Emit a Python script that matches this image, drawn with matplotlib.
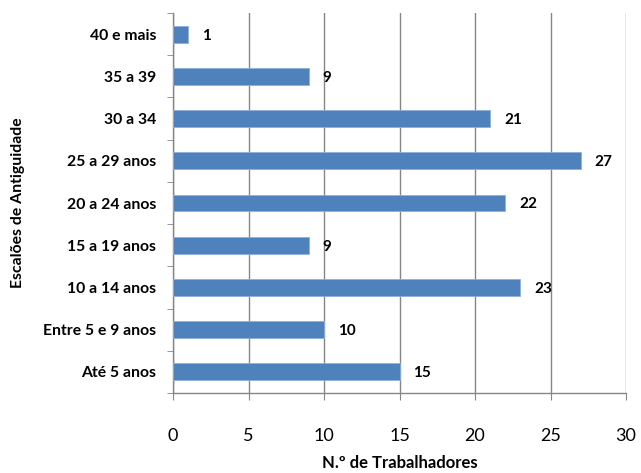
import numpy as np
import matplotlib.pyplot as plt
from matplotlib.ticker import MultipleLocator

# escalões de antiguidade (de baixo para cima) e n.º de trabalhadores
escaloes = ["Até 5 anos", "Entre 5 e 9 anos", "10 a 14 anos", "15 a 19 anos",
            "20 a 24 anos", "25 a 29 anos", "30 a 34", "35 a 39", "40 e mais"]
trabalhadores = [15, 10, 23, 9, 22, 27, 21, 9, 1]
xticks = [0, 5, 10, 15, 20, 25, 30]

plt.rcParams["font.family"] = ["Lato", "DejaVu Sans"]

fig = plt.figure(figsize=(6.41, 4.73), dpi=100)
ax = fig.add_axes([0.2699, 0.1691, 0.7067, 0.8034])

pos = np.arange(len(escaloes))
bars = ax.barh(pos, trabalhadores, height=0.4, color="#4F81BD",
               edgecolor="#8EB0DB", linewidth=0.6, zorder=3)

# valores ao lado de cada barra
for b, v in zip(bars, trabalhadores):
    ax.annotate(str(v), (b.get_width(), b.get_y() + b.get_height() / 2),
                xytext=(10, -1), textcoords="offset points",
                ha="left", va="center", fontsize=11, fontweight="bold")

ax.set_xlim(0, 30)
ax.set_ylim(-0.5, len(escaloes) - 0.5)
ax.set_xticks(xticks)
ax.set_yticks(pos)
ax.set_yticklabels(escaloes, fontsize=11.3, fontweight="bold")
ax.yaxis.set_minor_locator(MultipleLocator(1, offset=0.5))

ax.grid(axis="x", color="#868686", linewidth=1, zorder=0)
for s in ["top", "right"]:
    ax.spines[s].set_visible(False)
for s in ["left", "bottom"]:
    ax.spines[s].set_color("#868686")
    ax.spines[s].set_linewidth(1)

ax.tick_params(axis="x", direction="out", length=5, color="#868686",
               pad=20, labelsize=13)
ax.tick_params(axis="y", which="major", length=0, pad=12)
ax.tick_params(axis="y", which="minor", direction="out", length=4,
               color="#868686")

ax.set_xlabel("N.º de Trabalhadores", fontsize=12, fontweight="bold",
              labelpad=8)
ax.set_ylabel("Escalões de Antiguidade", fontsize=11.3, fontweight="bold",
              labelpad=13)

fig.savefig("out.png", dpi=100)
